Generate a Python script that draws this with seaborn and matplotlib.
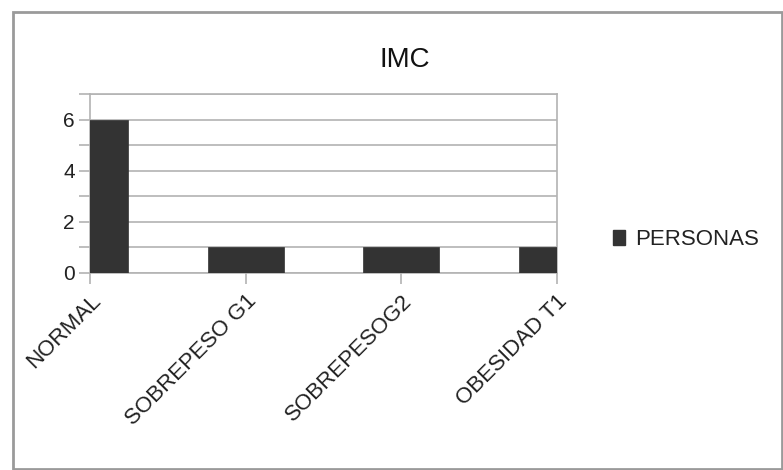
import matplotlib
matplotlib.use("Agg")
import matplotlib.pyplot as plt
import matplotlib.patches as mpatches
from matplotlib.ticker import FixedLocator
import seaborn as sns
import pandas as pd

categories = ["NORMAL", "SOBREPESO G1", "SOBREPESOG2", "OBESIDAD T1"]
personas = [6, 1, 1, 1]
series_name = "PERSONAS"
title = "IMC"

sns.set_theme(style="white")
plt.rcParams['font.family'] = ['Liberation Sans', 'DejaVu Sans']

W, H = 783, 470
fig = plt.figure(figsize=(W / 100, H / 100), dpi=100)
ax = fig.add_axes([90 / W, 1 - 272.5 / H, (557 - 90) / W, (272.5 - 94) / H])

df = pd.DataFrame({"cat": categories, "val": personas})
bar_color = "#333333"
sns.barplot(data=df, x="cat", y="val", color=bar_color, width=0.49,
            saturation=1, edgecolor=bar_color, linewidth=0.5, ax=ax, zorder=3)

ax.set_xlim(0, 3)
ax.set_ylim(0, 7)
ax.set_xlabel("")
ax.set_ylabel("")

grid_c = "#b3b3b3"
ax.yaxis.set_major_locator(FixedLocator([0, 2, 4, 6]))
ax.yaxis.set_minor_locator(FixedLocator([1, 3, 5, 7]))
ax.grid(axis="y", which="both", color=grid_c, linewidth=1.2, zorder=0)
ax.set_axisbelow(True)
for s in ax.spines.values():
    s.set_color(grid_c)
    s.set_linewidth(1.2)

ax.tick_params(axis="y", which="both", direction="out", length=8, width=1.2,
               color=grid_c, left=True, labelsize=15, labelcolor="#222222", pad=3)
ax.tick_params(axis="x", which="major", direction="out", length=8, width=1.2,
               color=grid_c, bottom=True, labelsize=16, labelcolor="#222222", pad=5)
ax.set_xticks(range(len(categories)))
ax.set_xticklabels(categories, rotation=45, ha="right", rotation_mode="anchor")

fig.text(405 / W, 1 - 60 / H, title, ha="center", va="center", fontsize=20, color="#111111")

handle = mpatches.Patch(facecolor=bar_color, edgecolor=bar_color, label=series_name)
leg = ax.legend(handles=[handle], loc="center left",
                bbox_to_anchor=(613 / W, 1 - 240 / H), bbox_transform=fig.transFigure,
                frameon=False, fontsize=16, handlelength=0.55, handleheight=0.65,
                handletextpad=0.45, borderpad=0, borderaxespad=0)
for t in leg.get_texts():
    t.set_color("#222222")

frame = mpatches.Rectangle((12.5 / W, 1 - 469 / H), (781.5 - 12.5) / W, (469 - 12) / H,
                           transform=fig.transFigure, fill=False,
                           edgecolor="#9a9a9a", linewidth=2)
fig.patches.append(frame)

fig.savefig("out.png", dpi=100)
